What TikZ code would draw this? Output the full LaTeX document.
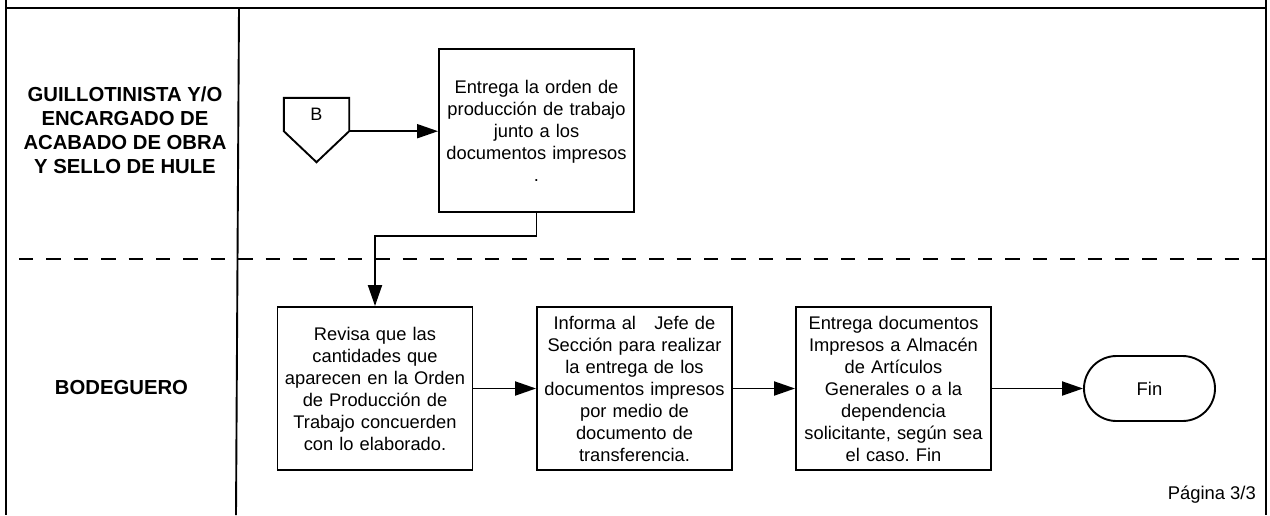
\documentclass[tikz,border=0pt]{standalone}
\usepackage{fontspec}
\setmainfont{Liberation Sans}
\frenchspacing
\usetikzlibrary{arrows.meta,shapes.misc,calc}
\begin{document}
\begin{tikzpicture}[x=1pt,y=-1pt,
  line/.style={line width=1.9pt},
  arr/.style={line width=1.9pt,-{Triangle[length=21pt,width=14pt]}},
  stepbox/.style={draw,line width=1.9pt,minimum width=195pt,minimum height=163pt,
    inner sep=0pt,align=center,text width=192pt,
    font=\fontsize{18.3}{22}\selectfont},
  lanelabel/.style={align=center,font=\fontsize{20.3}{24}\selectfont\bfseries},
  endbox/.style={draw,line width=1.9pt,rounded rectangle,minimum width=131pt,
    minimum height=65pt,inner sep=0pt,font=\fontsize{18.4}{22}\selectfont}]
\useasboundingbox (0,0) rectangle (1270,515);
% frame
\draw[line] (6,0) -- (6,515);
\draw[line] (1266,0) -- (1266,515);
\draw[line width=2.3pt] (6,8) -- (1266,8);
\draw[line] (239,8) -- (236,515);
\draw[line width=1.9pt,dash pattern=on 14.3pt off 13.1pt] (19,259) -- (1266,259);
% lane labels
\node[lanelabel] (l1) at (125,130) {GUILLOTINISTA Y/O\\ENCARGADO DE\\ACABADO DE OBRA\\Y SELLO DE HULE};
\node[lanelabel] (l2) at (121.5,388) {BODEGUERO};
% off-page connector B
\node[minimum width=65pt,minimum height=33pt,inner sep=0pt,
  font=\fontsize{18}{22}\selectfont] (B) at (316.5,114.5) {\raisebox{-8.5pt}{B}};
\draw[line,line join=miter] (B.north west) -- (B.north east) -- (B.south east)
  -- ($(B.south)+(0,31)$) -- (B.south west) -- cycle;
% steps
\node[stepbox] (b1) at (536.5,130.5) {Entrega la orden de\\producción de trabajo\\junto a los\\documentos impresos\\.};
\node[stepbox] (b2) at (375,388.5) {Revisa que las\\cantidades que\\aparecen en la Orden\\de Producción de\\Trabajo concuerden\\con lo elaborado.};
\node[stepbox] (b3) at (634.5,388.5) {Informa al\ \ \ Jefe de\\Sección para realizar\\la entrega de los\\documentos impresos\\por medio de\\documento de\\transferencia.};
\node[stepbox] (b4) at (893.5,388.5) {Entrega documentos\\Impresos a Almacén\\de Artículos\\Generales o a la\\dependencia\\solicitante, según sea\\el caso. Fin};
\node[endbox] (fin) at (1149.5,388.5) {Fin};
\node[anchor=base east,inner sep=0pt,font=\fontsize{18.4}{22}\selectfont] (pag) at (1256,499) {Página 3/3};
% connectors
\draw[arr] (B.south east) -- (B.south east -| b1.west);
\draw[arr] (b1.south) -- (b1.south |- 0,236) -| (b2.north);
\draw[arr] (b2.east) -- (b3.west);
\draw[arr] (b3.east) -- (b4.west);
\draw[arr] (b4.east) -- (fin.west);
\end{tikzpicture}
\end{document}
